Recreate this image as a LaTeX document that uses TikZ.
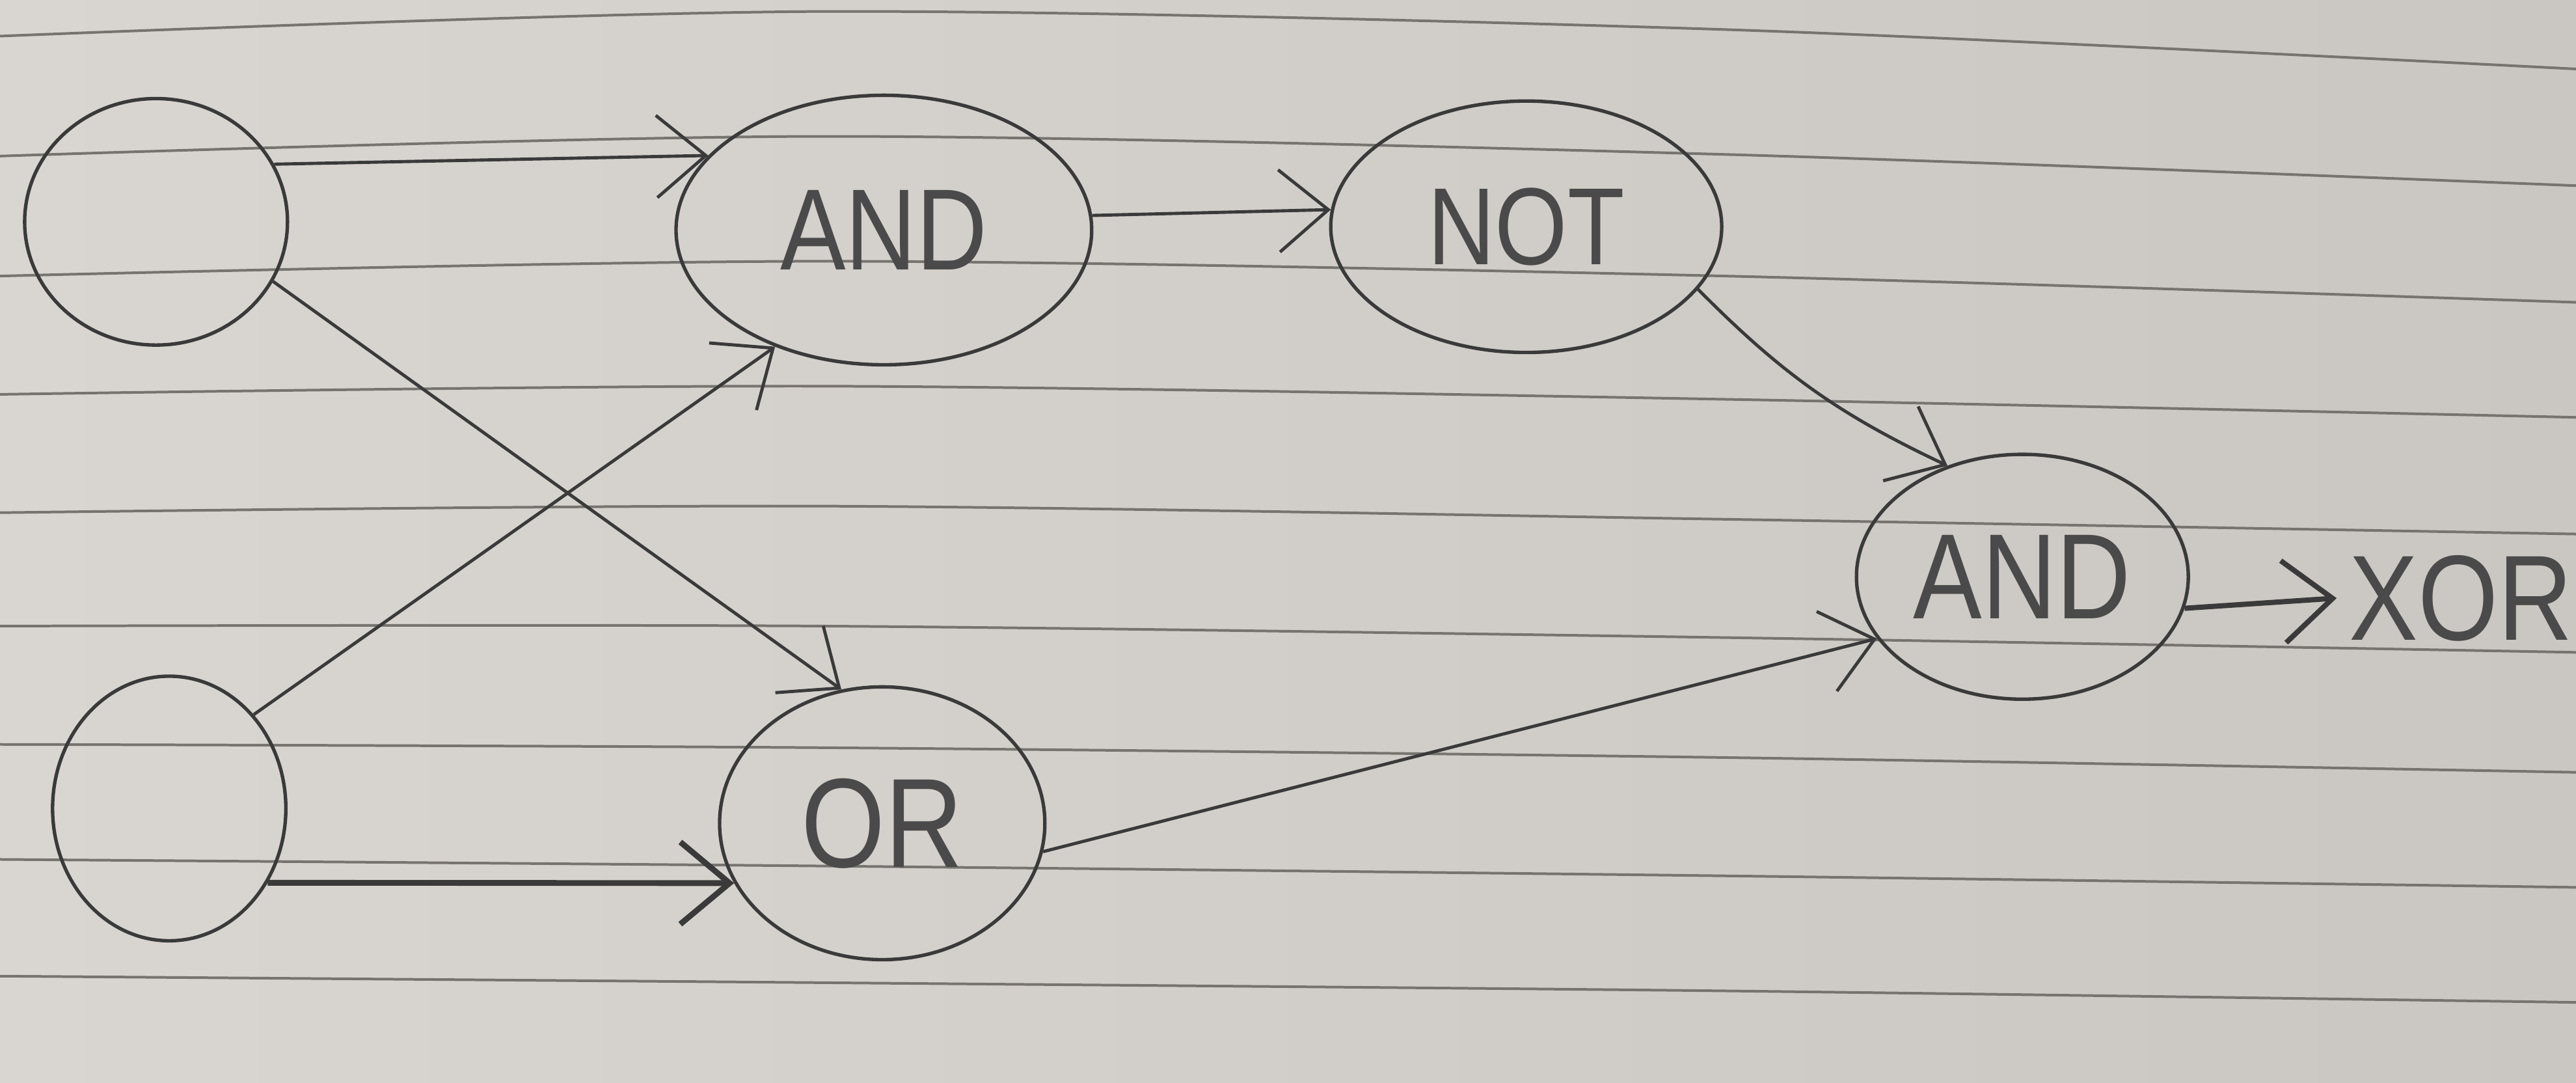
\documentclass[tikz,border=0pt]{standalone}
\usepackage{fontspec}
\usepackage{tikz}
\usetikzlibrary{shapes.geometric,arrows.meta}
\newfontfamily\handfont[FakeStretch=0.85]{Liberation Sans}
\definecolor{NPaper}{HTML}{D9D6D1}
\definecolor{NPaperDark}{HTML}{CAC6C1}
\definecolor{NRule}{HTML}{77736F}
\definecolor{NInk}{HTML}{3A3A3A}
\definecolor{NText}{HTML}{4A4A4A}

\begin{document}
\begin{tikzpicture}[x=1cm,y=1cm,
  gate/.style={draw=NInk,ellipse,line width=.6pt,inner sep=0pt,text=NText},
  wire/.style={NInk,line width=.55pt,-{Straight Barb[length=3mm,width=5mm]}}]
\path[use as bounding box] (0,0) rectangle (15.68,6.59);
\shade[left color=NPaper,right color=NPaperDark] (0,0) rectangle (15.68,6.59);
% ruled lines of the notebook page
\foreach \a/\b/\c/\d in {6.37/6.52/6.41/6.17, 5.64/5.76/5.65/5.46, 4.91/5.00/4.91/4.75,
    4.19/4.24/4.16/4.05, 3.47/3.51/3.43/3.34, 2.78/2.78/2.71/2.62,
    2.06/2.04/1.98/1.89, 1.36/1.32/1.26/1.19, 0.65/0.61/0.56/0.49}
  \draw[NRule,line width=.45pt] plot[smooth] coordinates {(0,\a) (5.00,\b) (10.50,\c) (15.68,\d)};
% inputs
\node[gate,minimum width=1.60cm,minimum height=1.50cm] (in1) at (0.95,5.24) {};
\node[gate,minimum width=1.42cm,minimum height=1.61cm] (in2) at (1.03,1.67) {};
% gates
\node[gate,minimum width=2.53cm,minimum height=1.64cm,font=\handfont\fontsize{20}{20}\selectfont] (andA) at (5.38,5.19) {AND};
\node[gate,minimum width=2.38cm,minimum height=1.53cm,font=\handfont\fontsize{19}{19}\selectfont] (notA) at (9.29,5.21) {NOT};
\node[gate,minimum width=1.98cm,minimum height=1.66cm,font=\handfont\fontsize{22}{22}\selectfont] (orA) at (5.37,1.58) {OR};
\node[gate,minimum width=2.02cm,minimum height=1.49cm,font=\handfont\fontsize{21}{21}\selectfont] (andB) at (12.31,3.08) {AND};
\node[text=NText,inner sep=2pt,font=\handfont\fontsize{21}{21}\selectfont] (xor) at (14.98,2.95) {XOR};
% wiring
\draw[wire] (in1.26) -- (andA.157);
\draw[wire] (in1.-27) -- (orA.107);
\draw[wire] (in2.48) -- (andA.227);
\draw[wire,line width=1pt] (in2.-37) -- (orA.202);
\draw[wire] (andA.4) -- (notA.175);
\draw[wire] (notA.-20) to[bend right=10] (andB.124);
\draw[wire] (orA.-10) -- (andB.203);
\draw[wire,line width=.9pt] (andB.-11) -- (xor.west);
\end{tikzpicture}
\end{document}
